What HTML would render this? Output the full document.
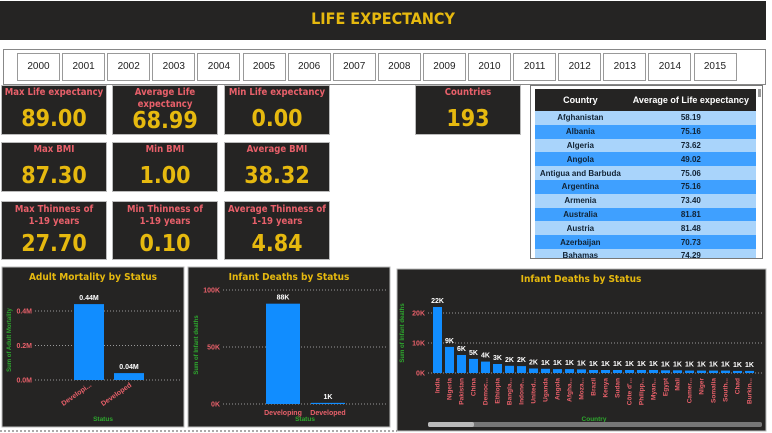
<!DOCTYPE html>
<html><head><meta charset="utf-8"><style>
*{box-sizing:border-box;margin:0;padding:0}
body{width:772px;height:433px;background:#fff;font-family:"Liberation Sans",sans-serif;position:relative;overflow:hidden}
.abs{position:absolute}
.card{position:absolute;background:#252423;border:1px solid #bbb;text-align:center;color:#e8606a;font-weight:bold;font-size:9.5px;line-height:11.5px;font-family:"DejaVu Sans Condensed","Liberation Sans Narrow",sans-serif;padding-top:1px}
.card .v{color:#e6b90f;font-size:23px;font-family:"DejaVu Sans Condensed","Liberation Sans Narrow",sans-serif;font-weight:bold;position:absolute;left:0;right:0;bottom:2px;line-height:26px}
.yr{position:absolute;top:53px;width:43px;height:28px;border:1px solid #999;background:#fff;font-size:10px;line-height:26px;text-align:center;color:#222}
table{border-collapse:collapse;width:100%;font-size:8px;font-weight:bold}
td{height:13.8px;text-align:center;color:#123}
svg text{font-family:"Liberation Sans",sans-serif;font-weight:bold}
svg text.t{font-family:"DejaVu Sans Condensed",sans-serif}
</style></head><body>
<div class="abs" style="left:0;top:1px;width:766px;height:39px;background:#252423"></div>
<div class="abs" style="left:0;top:9px;width:766px;text-align:center;color:#e6b90f;font-size:16px;font-weight:bold;font-family:'DejaVu Sans Condensed',sans-serif">LIFE EXPECTANCY</div>
<div class="abs" style="left:3px;top:49px;width:763px;height:36px;border:1px solid #888"></div>
<div id="years"></div>

<div class="card" style="left:1px;top:85px;width:106px;height:50px">Max Life expectancy<div class="v">89.00</div></div>
<div class="card" style="left:112px;top:85px;width:106px;height:50px">Average Life<br>expectancy<div class="v" style="bottom:0">68.99</div></div>
<div class="card" style="left:224px;top:85px;width:106px;height:50px">Min Life expectancy<div class="v">0.00</div></div>
<div class="card" style="left:415px;top:85px;width:106px;height:50px">Countries<div class="v">193</div></div>
<div class="card" style="left:1px;top:142px;width:106px;height:50px">Max BMI<div class="v">87.30</div></div>
<div class="card" style="left:112px;top:142px;width:106px;height:50px">Min BMI<div class="v">1.00</div></div>
<div class="card" style="left:224px;top:142px;width:106px;height:50px">Average BMI<div class="v">38.32</div></div>
<div class="card" style="left:1px;top:201px;width:106px;height:59px;padding-top:2px">Max Thinness of<br>1-19 years<div class="v">27.70</div></div>
<div class="card" style="left:112px;top:201px;width:106px;height:59px;padding-top:2px">Min Thinness of<br>1-19 years<div class="v">0.10</div></div>
<div class="card" style="left:224px;top:201px;width:106px;height:59px;padding-top:2px">Average Thinness of<br>1-19 years<div class="v">4.84</div></div>

<div class="abs" style="left:530px;top:85px;width:233px;height:174px;border:1px solid #777;overflow:hidden;padding:3px 6px 0 4px">
<table>
<tr style="background:#252423;color:#fff"><td style="color:#fff;height:22px;font-size:9px">Country</td><td style="color:#fff;font-size:9px">Average of Life expectancy</td></tr>
<tbody id="tb"></tbody></table>
<div class="abs" style="right:1px;top:3px;width:3px;height:8px;background:#999"></div>
</div>

<svg class="abs" style="left:0;top:0" width="772" height="433" id="charts">
<rect x="2" y="267" width="182" height="160" fill="#252423" stroke="#bbb"/>
<rect x="188" y="267" width="202" height="160" fill="#252423" stroke="#bbb"/>
<rect x="397" y="269" width="369" height="162" fill="#252423" stroke="#bbb"/>
<line x1="0" y1="431" x2="397" y2="431" stroke="#555" stroke-dasharray="2,2"/>
<text class="t" x="93" y="280" fill="#e6b90f" font-size="10" text-anchor="middle">Adult Mortality by Status</text>
<text class="t" x="289" y="280" fill="#e6b90f" font-size="10" text-anchor="middle">Infant Deaths by Status</text>
<text class="t" x="581" y="282" fill="#e6b90f" font-size="10" text-anchor="middle">Infant Deaths by Status</text>
<text transform="translate(11,340) rotate(-90)" fill="#2ea82e" font-size="6" text-anchor="middle">Sum of Adult Mortality</text>
<text x="103" y="421" fill="#2ea82e" font-size="6.5" text-anchor="middle">Status</text>
<text transform="translate(198,345) rotate(-90)" fill="#2ea82e" font-size="6" text-anchor="middle">Sum of Infant deaths</text>
<text x="305" y="421" fill="#2ea82e" font-size="6.5" text-anchor="middle">Status</text>
<text transform="translate(404,333) rotate(-90)" fill="#2ea82e" font-size="6" text-anchor="middle">Sum of Infant deaths</text>
<text x="594" y="421" fill="#2ea82e" font-size="6.5" text-anchor="middle">Country</text>
<rect x="428" y="422" width="334" height="5" rx="2" fill="#777"/>
<rect x="428" y="422" width="46" height="5" rx="2" fill="#bbb"/>
</svg>
<script>
const years=[2000,2001,2002,2003,2004,2005,2006,2007,2008,2009,2010,2011,2012,2013,2014,2015];
const tCountries=["Afghanistan","Albania","Algeria","Angola","Antigua and Barbuda","Argentina","Armenia","Australia","Austria","Azerbaijan","Bahamas"];
const tValues=["58.19","75.16","73.62","49.02","75.06","75.16","73.40","81.81","81.48","70.73","74.29"];
const adultCats=["Developi...","Developed"];
const adultVals=[0.44,0.04];
const adultTicks=[0,0.2,0.4];
const infCats=["Developing","Developed"];
const infVals=[88,1];
const infTicks=[0,50,100];
const ctyCats=["India","Nigeria","Pakistan","China","Democ...","Ethiopia","Bangla...","Indone...","United...","Uganda","Angola","Afgha...","Moza...","Brazil","Kenya","Sudan","Côte d'...","Philipp...","Myan...","Egypt","Mali","Camer...","Niger","Somalia","South...","Chad","Burkin..."];
const ctyVals=[22,8.7,6,4.7,3.8,3,2.4,2.3,1.5,1.4,1.3,1.3,1.2,1.0,1.0,1.0,1.0,1.0,1.0,0.9,0.9,0.8,0.8,0.8,0.8,0.7,0.7];
const ctyLabels=["22K","9K","6K","5K","4K","3K","2K","2K","2K","1K","1K","1K","1K","1K","1K","1K","1K","1K","1K","1K","1K","1K","1K","1K","1K","1K","1K"];
const ctyTicks=[0,10,20];

years.forEach((y,i)=>{const d=document.createElement('div');d.className='yr';d.style.left=(17+i*45.1)+'px';d.textContent=y;


document.body.appendChild(d);});
const tb=document.getElementById('tb');
tCountries.forEach((c,i)=>{const tr=document.createElement('tr');tr.style.background=i%2?'#3fa0ff':'#a9d4fb';


tr.innerHTML='<td>'+c+'</td><td>'+tValues[i]+'</td>';tb.appendChild(tr);});

const S=document.getElementById('charts'),NS='http://www.w3.org/2000/svg';
function el(t,a,txt){const e=document.createElementNS(NS,t);for(const k in a)e.setAttribute(k,a[k]);if(txt!==undefined)e.textContent=txt;S.appendChild(e);return e;}
function chart(o){
 const sy=v=>o.y0-(v/o.max)*(o.y0-o.yTop);
 o.ticks.forEach(t=>{const l=el('line',{x1:o.gx0,x2:o.gx1,y1:sy(t),y2:sy(t),stroke:'#999','stroke-dasharray':'1,2','stroke-width':1});
 
 
 const tx=el('text',{x:o.gx0-3,y:sy(t)+2.5,fill:'#e8606a','font-size':7,'text-anchor':'end'},o.fmt(t));
 
 });
 o.vals.forEach((v,i)=>{const x=o.bx0+i*o.step;const r=el('rect',{x:x,y:sy(v),width:o.bw,height:o.y0-sy(v),fill:'#118dff'});
 
 
 const lb=el('text',{x:x+o.bw/2,y:sy(v)-4,fill:'#fff','font-size':o.lfs,'text-anchor':'middle'},o.labels[i]);
 
 
 let c;
 if(o.rot){c=el('text',{transform:'translate('+(x+o.bw/2+o.rdx)+','+(o.y0+o.rdy)+') rotate('+o.rot+')',fill:'#e8606a','font-size':o.cfs,'text-anchor':'end'},o.cats[i]);}
 else c=el('text',{x:x+o.bw/2,y:o.y0+11,fill:'#e8606a','font-size':o.cfs,'text-anchor':'middle'},o.cats[i]);
 
 });
}
chart({vals:adultVals,cats:adultCats,labels:["0.44M","0.04M"],ticks:adultTicks,max:0.4,y0:380,yTop:311,gx0:35,gx1:182,bx0:74,step:40,bw:30,lfs:7,cfs:7,rot:-35,rdx:3,rdy:6,fmt:t=>t.toFixed(1)+'M'});
chart({vals:infVals,cats:infCats,labels:["88K","1K"],ticks:infTicks,max:100,y0:404,yTop:290,gx0:223,gx1:386,bx0:266,step:45,bw:34,lfs:7,cfs:7,fmt:t=>t+'K'});
chart({vals:ctyVals,cats:ctyCats,labels:ctyLabels,ticks:ctyTicks,max:20,y0:373,yTop:313,gx0:428,gx1:762,bx0:433,step:12,bw:9,lfs:7,cfs:6.5,rot:-90,rdx:2,rdy:5,fmt:t=>t+'K'});
</script>
</body></html>
